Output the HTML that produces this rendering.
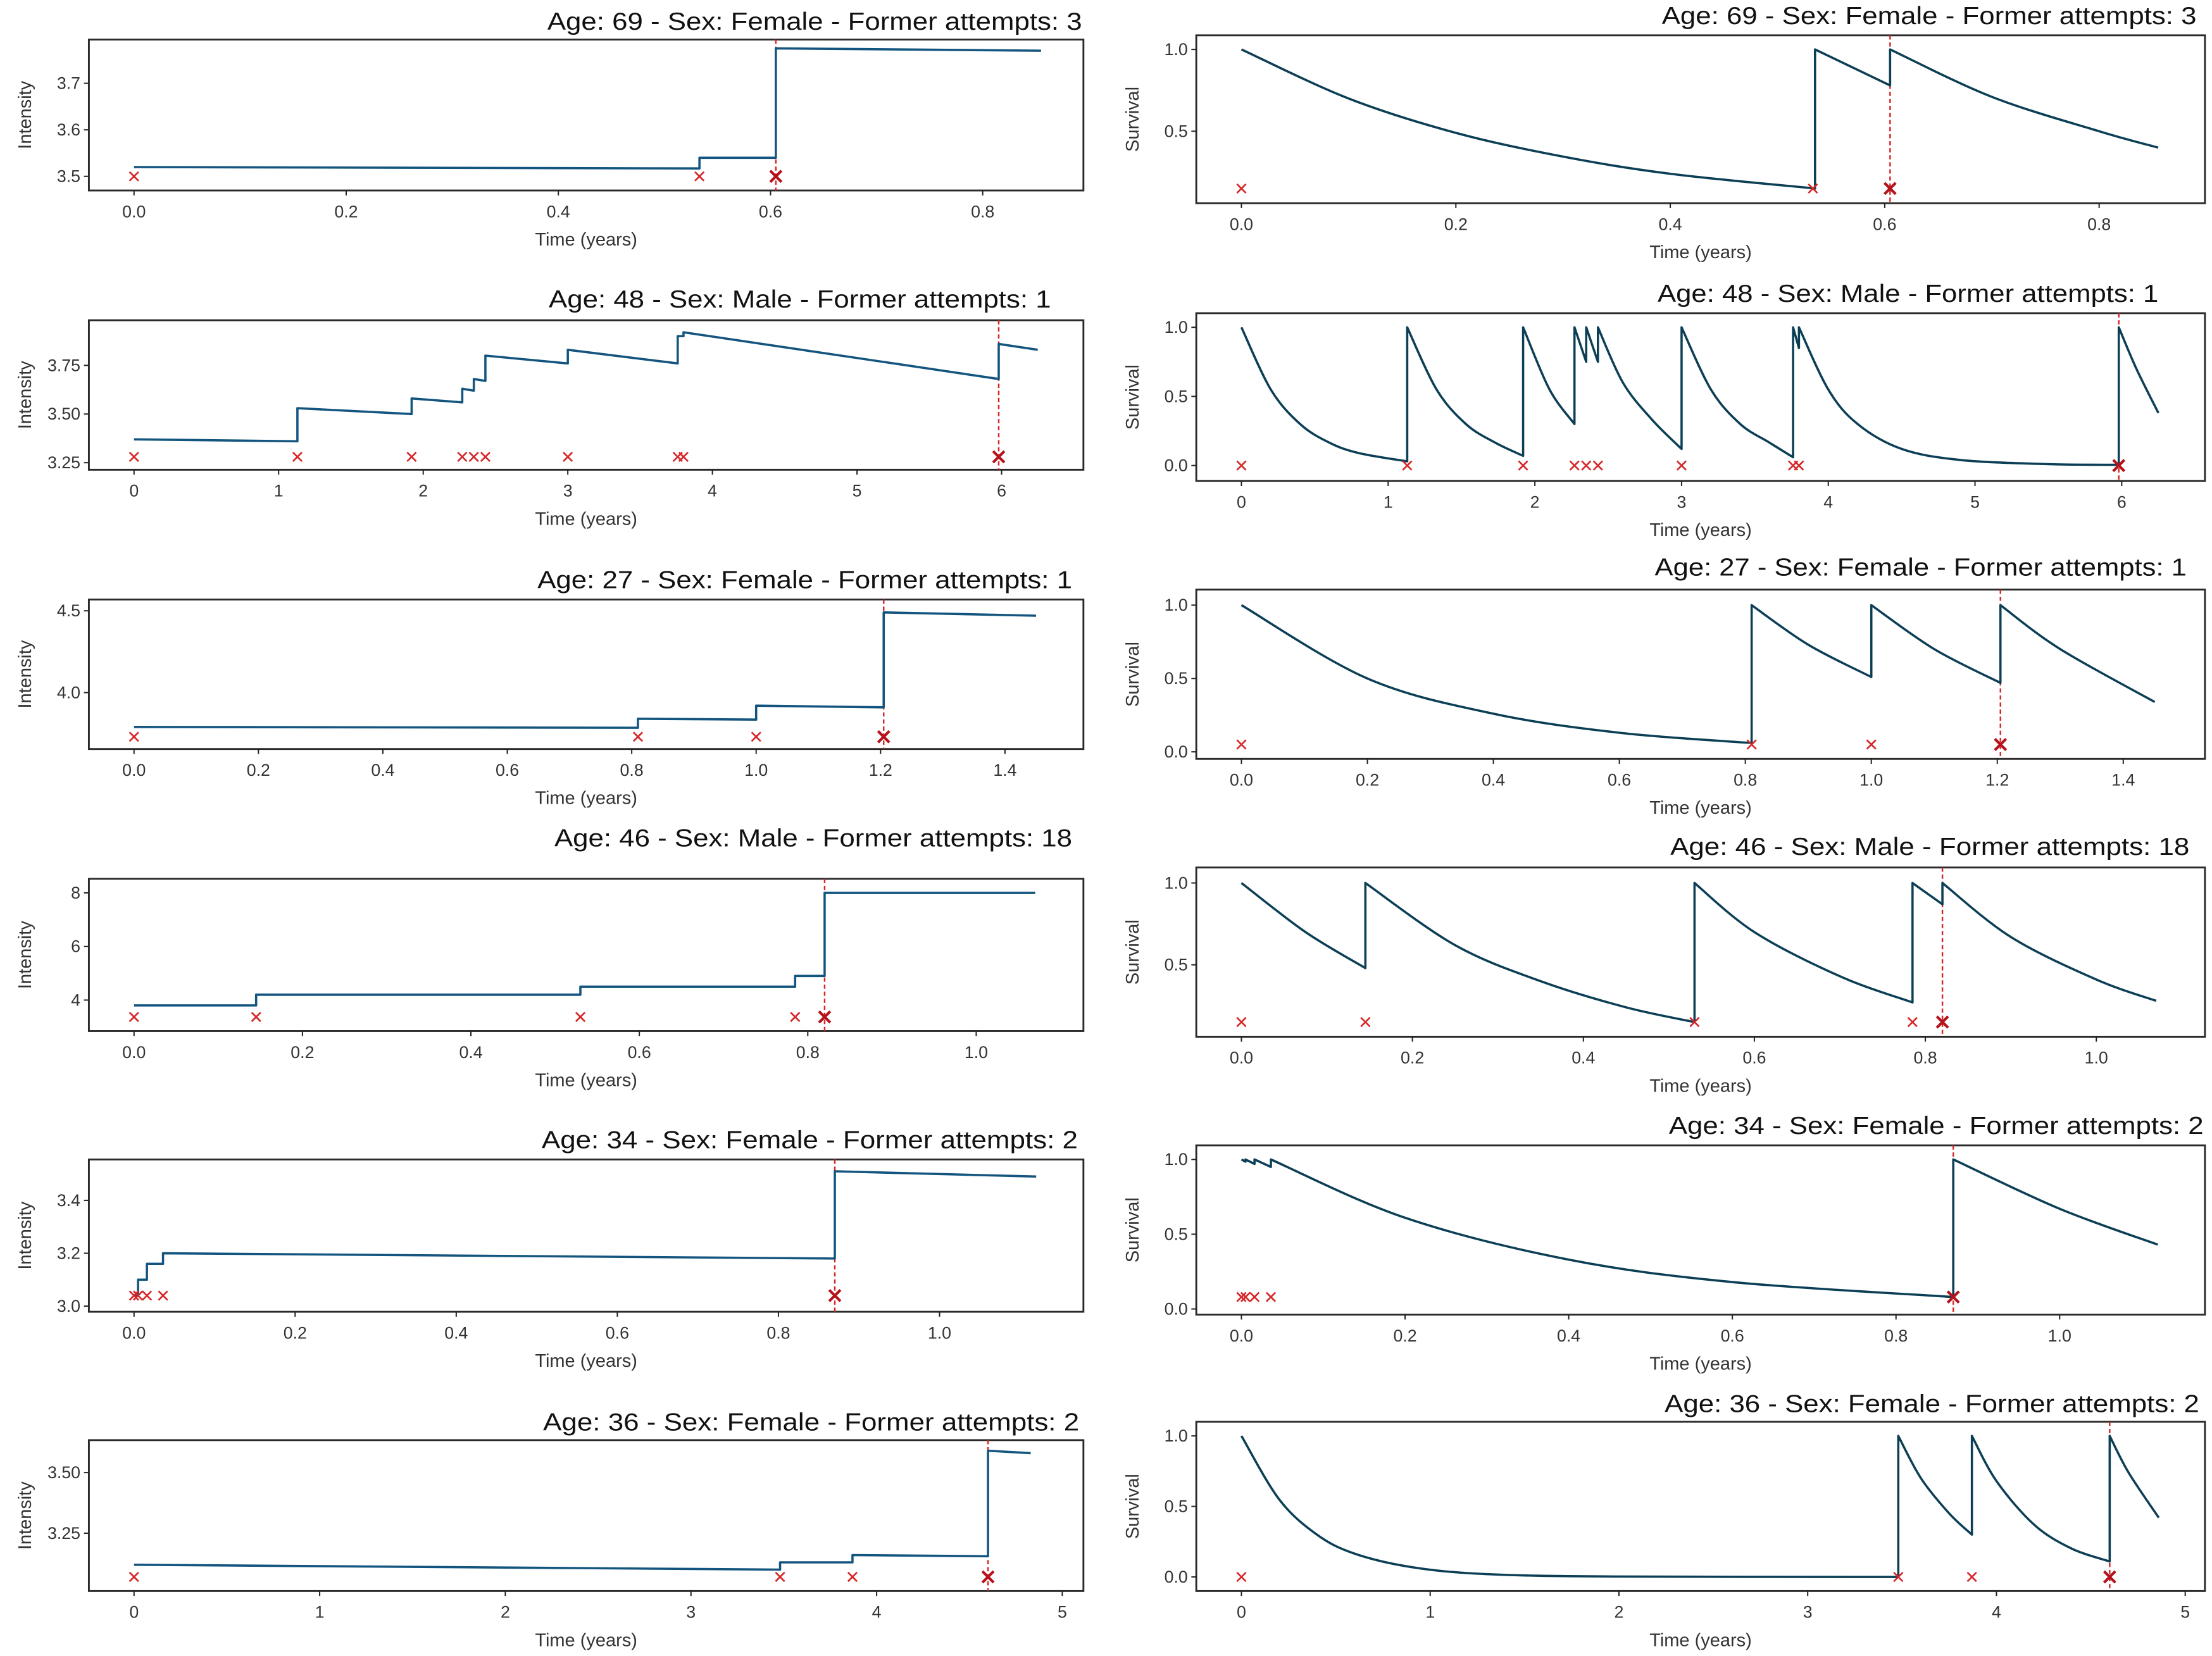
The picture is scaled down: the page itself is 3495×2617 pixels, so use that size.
<!DOCTYPE html>
<html><head><meta charset="utf-8">
<style>
html,body{margin:0;padding:0;background:#fff;}
svg{display:block;}
text{font-family:"Liberation Sans",sans-serif;}
</style></head>
<body>
<svg id="fig" width="3495" height="2617" viewBox="0 0 1568 1174" xmlns="http://www.w3.org/2000/svg"></svg>
<script>
// ---------- DATA ----------
const xTicksA = [0.0,0.2,0.4,0.6,0.8];
const xTicksB = [0,1,2,3,4,5,6];
const xTicksC = [0.0,0.2,0.4,0.6,0.8,1.0,1.2,1.4];
const xTicksD = [0.0,0.2,0.4,0.6,0.8,1.0];
const xTicksF = [0,1,2,3,4,5];

const titles = [
 "Age: 69 - Sex: Female - Former attempts: 3",
 "Age: 48 - Sex: Male - Former attempts: 1",
 "Age: 27 - Sex: Female - Former attempts: 1",
 "Age: 46 - Sex: Male - Former attempts: 18",
 "Age: 34 - Sex: Female - Former attempts: 2",
 "Age: 36 - Sex: Female - Former attempts: 2"
];

// events (times)
const ev1 = [0,0.533,0.605];
const ev2 = [0,1.13,1.92,2.27,2.35,2.43,3.0,3.76,3.8,5.98];
const ev3 = [0,0.81,1.0,1.205];
const ev4 = [0,0.145,0.53,0.785,0.82];
const ev5 = [0,0.005,0.016,0.036,0.87];
const ev6 = [0,3.48,3.87,4.6];

// intensity series
const int1T = [0,0.533,0.533,0.605,0.605,0.855];
const int1V = [3.52,3.517,3.54,3.54,3.775,3.77];
const int2T = [0,1.13,1.13,1.92,1.92,2.27,2.27,2.35,2.35,2.43,2.43,3.0,3.0,3.76,3.76,3.8,3.8,5.98,5.98,6.25];
const int2V = [3.37,3.36,3.53,3.50,3.58,3.56,3.63,3.62,3.68,3.67,3.80,3.76,3.83,3.76,3.90,3.90,3.92,3.68,3.86,3.83];
const int3T = [0,0.81,0.81,1.0,1.0,1.205,1.205,1.45];
const int3V = [3.79,3.785,3.84,3.835,3.92,3.91,4.49,4.47];
const int4T = [0,0.145,0.145,0.53,0.53,0.785,0.785,0.82,0.82,1.07];
const int4V = [3.8,3.8,4.2,4.2,4.5,4.5,4.9,4.9,8.0,8.0];
const int5T = [0,0.005,0.005,0.016,0.016,0.036,0.036,0.87,0.87,1.12];
const int5V = [3.04,3.04,3.10,3.10,3.16,3.16,3.20,3.18,3.51,3.49];
const int6T = [0,3.48,3.48,3.87,3.87,4.6,4.6,4.83];
const int6V = [3.12,3.10,3.13,3.13,3.16,3.155,3.59,3.58];

// survival series
const sur1T = [0,0.1,0.2,0.3,0.4,0.535, 0.535,0.605, 0.605,0.7,0.8,0.855];
const sur1V = [1,0.70,0.49,0.345,0.24,0.15, 1,0.78, 1,0.71,0.50,0.40];
const sur2T = [0,0.2,0.4,0.6,0.8,1.13, 1.13,1.33,1.53,1.73,1.92, 1.92,2.1,2.27, 2.27,2.35, 2.35,2.43, 2.43,2.6,2.8,3.0, 3.0,3.2,3.4,3.6,3.76, 3.76,3.8, 3.8,4.0,4.2,4.5,4.9,5.5,5.98, 5.98,6.1,6.25];
const sur2V = [1,0.55,0.30,0.165,0.09,0.03, 1,0.55,0.30,0.165,0.07, 1,0.55,0.30, 1,0.75, 1,0.75, 1,0.6,0.33,0.12, 1,0.55,0.30,0.165,0.06, 1,0.85, 1,0.55,0.30,0.12,0.04,0.01,0.005, 1,0.70,0.38];
const sur3T = [0,0.2,0.4,0.6,0.81, 0.81,0.9,1.0, 1.0,1.1,1.205, 1.205,1.3,1.45];
const sur3V = [1,0.50,0.26,0.13,0.06, 1,0.73,0.51, 1,0.70,0.47, 1,0.70,0.34];
const sur4T = [0,0.075,0.145, 0.145,0.25,0.35,0.45,0.53, 0.53,0.6,0.7,0.785, 0.785,0.82, 0.82,0.9,1.0,1.07];
const sur4V = [1,0.70,0.48, 1,0.62,0.40,0.24,0.15, 1,0.70,0.43,0.27, 1,0.87, 1,0.67,0.41,0.28];
const sur5T = [0,0.005, 0.005,0.016, 0.016,0.036, 0.036,0.2,0.4,0.6,0.87, 0.87,1.0,1.12];
const sur5V = [1,0.985, 1,0.97, 1,0.95, 1,0.61,0.33,0.18,0.08, 1,0.67,0.43];
const sur6T = [0,0.2,0.4,0.6,0.9,1.3,2.0,3.48, 3.48,3.6,3.75,3.87, 3.87,4.0,4.2,4.4,4.6, 4.6,4.7,4.86];
const sur6V = [1,0.55,0.30,0.165,0.07,0.02,0.003,0, 1,0.70,0.45,0.30, 1,0.68,0.37,0.2,0.11, 1,0.74,0.42];

const intTicks1=[3.5,3.6,3.7], intTicks2=[3.25,3.50,3.75], intTicks3=[4.0,4.5], intTicks4=[4,6,8], intTicks5=[3.0,3.2,3.4], intTicks6=[3.25,3.50];
const intLabels1=["3.5","3.6","3.7"], intLabels2=["3.25","3.50","3.75"], intLabels3=["4.0","4.5"], intLabels4=["4","6","8"], intLabels5=["3.0","3.2","3.4"], intLabels6=["3.25","3.50"];
const surTicks1=[0.5,1.0], surTicksStd=[0.0,0.5,1.0];
const intMarkV = [3.5,3.28,3.73,3.37,3.04,3.07];
const surMarkV = [0.15,0,0.05,0.15,0.08,0];

// ---------- LAYOUT ----------
const NS="http://www.w3.org/2000/svg";
const svg=document.getElementById('fig');
function el(tag,attrs,parent){const e=document.createElementNS(NS,tag);for(const k in attrs)e.setAttribute(k,attrs[k]);(parent||svg).appendChild(e);return e;}

const panels=[
 {side:'L',row:0,box:[63,28,768,135],x0:95,xs:752,yr:[3.5,125,3.7,59],xt:xTicksA,xl:["0.0","0.2","0.4","0.6","0.8"],yt:intTicks1,yl:intLabels1,T:int1T,V:int1V,ev:ev1,mv:intMarkV[0],title:titles[0],tx:767,tw:379,ty:15},
 {side:'L',row:1,box:[63,227,768,333],x0:95,xs:102.5,yr:[3.25,328,3.75,259],xt:xTicksB,xl:xTicksB.map(String),yt:intTicks2,yl:intLabels2,T:int2T,V:int2V,ev:ev2,mv:intMarkV[1],title:titles[1],tx:745,tw:356,ty:212},
 {side:'L',row:2,box:[63,425,768,531],x0:95,xs:441,yr:[4.0,491,4.5,433],xt:xTicksC,xl:xTicksC.map(v=>v.toFixed(1)),yt:intTicks3,yl:intLabels3,T:int3T,V:int3V,ev:ev3,mv:intMarkV[2],title:titles[2],tx:760,tw:379,ty:411},
 {side:'L',row:3,box:[63,623,768,731],x0:95,xs:597,yr:[4,709,8,633],xt:xTicksD,xl:xTicksD.map(v=>v.toFixed(1)),yt:intTicks4,yl:intLabels4,T:int4T,V:int4V,ev:ev4,mv:intMarkV[3],title:titles[3],tx:760,tw:367,ty:594},
 {side:'L',row:4,box:[63,822,768,930],x0:95,xs:571,yr:[3.0,926,3.4,851],xt:xTicksD,xl:xTicksD.map(v=>v.toFixed(1)),yt:intTicks5,yl:intLabels5,T:int5T,V:int5V,ev:ev5,mv:intMarkV[4],title:titles[4],tx:764,tw:380,ty:808},
 {side:'L',row:5,box:[63,1021,768,1128],x0:95,xs:131.6,yr:[3.25,1087,3.50,1044],xt:xTicksF,xl:xTicksF.map(String),yt:intTicks6,yl:intLabels6,T:int6T,V:int6V,ev:ev6,mv:intMarkV[5],title:titles[5],tx:765,tw:380,ty:1008},
 {side:'R',row:0,box:[848,25,1563,144],x0:880,xs:760,yr:[0,151,1,35],xt:xTicksA,xl:["0.0","0.2","0.4","0.6","0.8"],yt:surTicks1,yl:["0.5","1.0"],T:sur1T,V:sur1V,ev:ev1,mv:surMarkV[0],title:titles[0],tx:1557,tw:379,ty:11,smooth:true},
 {side:'R',row:1,box:[848,222,1563,341],x0:880,xs:104,yr:[0,330,1,232],xt:xTicksB,xl:xTicksB.map(String),yt:surTicksStd,yl:["0.0","0.5","1.0"],T:sur2T,V:sur2V,ev:ev2,mv:surMarkV[1],title:titles[1],tx:1530,tw:355,ty:208,smooth:true},
 {side:'R',row:2,box:[848,418,1563,538],x0:880,xs:446.5,yr:[0,533,1,429],xt:xTicksC,xl:xTicksC.map(v=>v.toFixed(1)),yt:surTicksStd,yl:["0.0","0.5","1.0"],T:sur3T,V:sur3V,ev:ev3,mv:surMarkV[2],title:titles[2],tx:1550,tw:377,ty:402,smooth:true},
 {side:'R',row:3,box:[848,615,1563,735],x0:880,xs:606,yr:[0,742,1,626],xt:xTicksD,xl:xTicksD.map(v=>v.toFixed(1)),yt:surTicks1,yl:["0.5","1.0"],T:sur4T,V:sur4V,ev:ev4,mv:surMarkV[3],title:titles[3],tx:1552,tw:368,ty:600,smooth:true},
 {side:'R',row:4,box:[848,812,1563,932],x0:880,xs:580,yr:[0,928,1,822],xt:xTicksD,xl:xTicksD.map(v=>v.toFixed(1)),yt:surTicksStd,yl:["0.0","0.5","1.0"],T:sur5T,V:sur5V,ev:ev5,mv:surMarkV[4],title:titles[4],tx:1562,tw:379,ty:798,smooth:true},
 {side:'R',row:5,box:[848,1008,1563,1128],x0:880,xs:133.8,yr:[0,1118,1,1018],xt:xTicksF,xl:xTicksF.map(String),yt:surTicksStd,yl:["0.0","0.5","1.0"],T:sur6T,V:sur6V,ev:ev6,mv:surMarkV[5],title:titles[5],tx:1559,tw:379,ty:995,smooth:true}
];

function segPath(pts,smooth){
  let d='';const segs=[];let cur=[pts[0]];
  for(let i=1;i<pts.length;i++){
    if(Math.abs(pts[i][0]-pts[i-1][0])<0.01){segs.push(cur);cur=[pts[i]];}else cur.push(pts[i]);
  }
  segs.push(cur);
  segs.forEach((s,si)=>{
    d+=(si===0?'M':'L')+s[0][0].toFixed(2)+','+s[0][1].toFixed(2);
    if(!smooth||s.length<3){for(let i=1;i<s.length;i++)d+='L'+s[i][0].toFixed(2)+','+s[i][1].toFixed(2);}
    else{
      for(let i=0;i<s.length-1;i++){
        const p0=s[i-1]||s[i],p1=s[i],p2=s[i+1],p3=s[i+2]||s[i+1];
        const c1=[p1[0]+(p2[0]-p0[0])/6,p1[1]+(p2[1]-p0[1])/6];
        const c2=[p2[0]-(p3[0]-p1[0])/6,p2[1]-(p3[1]-p1[1])/6];
        d+='C'+c1[0].toFixed(2)+','+c1[1].toFixed(2)+' '+c2[0].toFixed(2)+','+c2[1].toFixed(2)+' '+p2[0].toFixed(2)+','+p2[1].toFixed(2);
      }
    }
  });
  return d;
}

panels.forEach((p,pi)=>{
  const g=el('g',{});
  
  
  const [bx0,by0,bx1,by1]=p.box;
  const X=t=>p.x0+t*p.xs;
  const Y=v=>p.yr[1]+(v-p.yr[0])*(p.yr[3]-p.yr[1])/(p.yr[2]-p.yr[0]);

  const ti=el('text',{x:p.tx-p.tw,y:p.ty+6,'font-size':17.5,fill:'#111',textLength:p.tw,lengthAdjust:'spacingAndGlyphs'},g);
  ti.textContent=p.title;
  
  

  const fr=el('rect',{x:bx0,y:by0,width:bx1-bx0,height:by1-by0,fill:'#fff',stroke:'#2a2a2a','stroke-width':1.3},g);
  
  

  p.xt.forEach((t,i)=>{
    const x=X(t);
    const tk=el('line',{x1:x,y1:by1,x2:x,y2:by1+3.5,stroke:'#222','stroke-width':0.9},g);
    
    
    const lb=el('text',{x:x,y:by1+19,'text-anchor':'middle','font-size':12,fill:'#333'},g);
    lb.textContent=p.xl[i];
    
    
  });
  p.yt.forEach((v,i)=>{
    const y=Y(v);
    const tk=el('line',{x1:bx0-3.5,y1:y,x2:bx0,y2:y,stroke:'#222','stroke-width':0.9},g);
    
    
    const lb=el('text',{x:bx0-6,y:y+4,'text-anchor':'end','font-size':12,fill:'#333'},g);
    lb.textContent=p.yl[i];
    
    
  });
  const cx=(bx0+bx1)/2;
  const xl=el('text',{x:cx,y:by1+39,'text-anchor':'middle','font-size':13,fill:'#333'},g);
  xl.textContent='Time (years)';
  
  
  const cy=(by0+by1)/2, lx=p.side==='L'?22:807;
  const yl=el('text',{x:lx,y:cy,'text-anchor':'middle','font-size':13,fill:'#333',transform:'rotate(-90 '+lx+' '+cy+')'},g);
  yl.textContent=p.side==='L'?'Intensity':'Survival';
  
  

  const last=p.ev[p.ev.length-1];
  const dl=el('line',{x1:X(last),y1:by0,x2:X(last),y2:by1,stroke:'#d62728','stroke-width':1.1,'stroke-dasharray':'3,2'},g);
  
  

  const pts=p.T.map((t,i)=>[X(t),Y(p.V[i])]);
  const ln=el('path',{d:segPath(pts,p.smooth),fill:'none',stroke:p.side==='L'?'#13557f':'#0c3f55','stroke-width':1.6,'stroke-linejoin':'round'},g);
  
  

  p.ev.forEach((t,i)=>{
    const x=X(t),y=Y(p.mv);
    const isLast=i===p.ev.length-1;
    const s=isLast?4:3.2;
    const m=el('path',{d:`M${x-s},${y-s}L${x+s},${y+s}M${x-s},${y+s}L${x+s},${y-s}`,stroke:isLast?'#b5121b':'#d62728','stroke-width':isLast?1.9:1.2,fill:'none'},g);
    
    
  });
});
</script>
</body></html>
